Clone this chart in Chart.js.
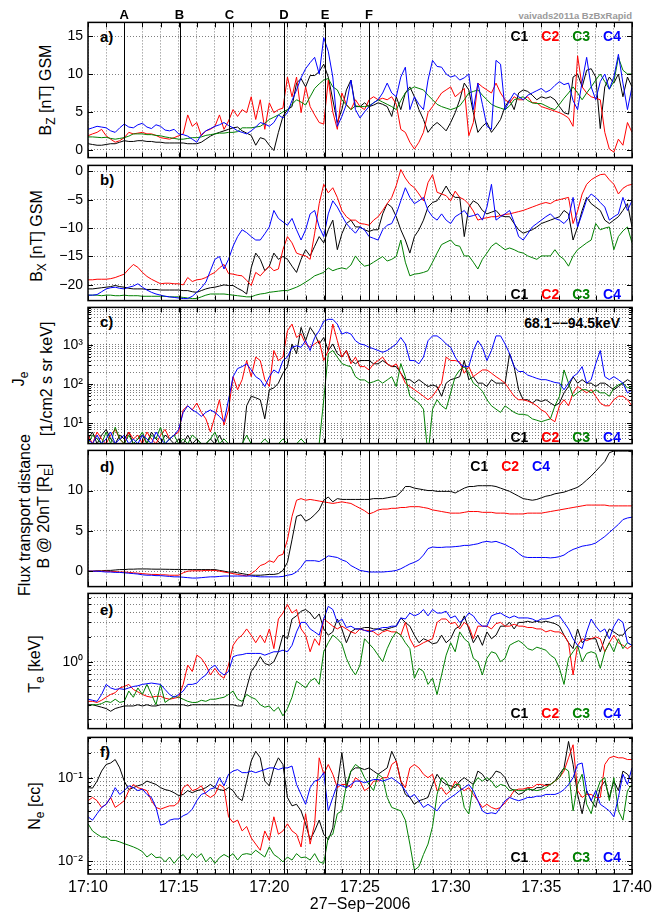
<!DOCTYPE html>
<html lang="en">
<head>
<meta charset="utf-8">
<title>Cluster C1-C4 overview, 27-Sep-2006</title>
<script src="https://cdn.jsdelivr.net/npm/chart.js@4.4.0/dist/chart.umd.min.js"></script>
<style>
  html, body { margin: 0; padding: 0; background: #fff; }
  #page { position: relative; width: 665px; height: 916px; overflow: hidden; background: #fff;
          font-family: "Liberation Sans", Arial, Helvetica, sans-serif; color: #000; }
  #page canvas { position: absolute; left: 0; }
  .ylab { position: absolute; white-space: nowrap; font-size: 16px; line-height: 16px;
          transform: translate(-50%, -50%) rotate(-90deg); }
  .ylab sub { font-size: 12px; line-height: 0; vertical-align: -4px; }
  .tag { position: absolute; left: 100px; font-size: 15px; font-weight: bold; line-height: 1; transform: translateY(-50%); }
  .legend { position: absolute; display: flex; gap: 13px; font-size: 14px; font-weight: bold; line-height: 1; transform: translateY(-50%); }
  .ev { position: absolute; top: 14px; font-size: 13px; font-weight: bold; line-height: 1; transform: translate(-50%, -50%); }
  .note { position: absolute; font-weight: bold; line-height: 1; white-space: nowrap; transform: translateY(-50%); }
</style>
</head>
<body>
<div id="page">
  <div class="ylab" style="left:46px; top:90px">B<sub>Z</sub> [nT] GSM</div>
  <div class="ylab" style="left:37px; top:236px">B<sub>X</sub> [nT] GSM</div>
  <div class="ylab" style="left:19px; top:379px">J<sub>e</sub></div>
  <div class="ylab" style="left:47px; top:379px">[1/cm2 s sr keV]</div>
  <div class="ylab" style="left:25px; top:515px">Flux transport distance</div>
  <div class="ylab" style="left:44px; top:516px">B @ 20nT [R<sub>E</sub>]</div>
  <div class="ylab" style="left:35px; top:664px">T<sub>e</sub> [keV]</div>
  <div class="ylab" style="left:35px; top:806px">N<sub>e</sub> [cc]</div>

  <div class="tag" style="top:36px">a)</div>
  <div class="tag" style="top:179px">b)</div>
  <div class="tag" style="top:321px">c)</div>
  <div class="tag" style="top:466px">d)</div>
  <div class="tag" style="top:609px">e)</div>
  <div class="tag" style="top:751px">f)</div>

  <div class="note" style="right:45px; top:323px; font-size:14px">68.1−−94.5keV</div>
  <div class="note" style="right:33px; top:16px; font-size:9.5px; color:#9a9a9a">vaivads2011a BzBxRapid</div>
</div>

<script>
const FONT = '"Liberation Sans", Arial, Helvetica, sans-serif';
const GRID = 'rgba(0,0,0,0.5)';

// one sample every 15 s, starting 17:10
const sampleStep = 0.25;
const startHour = 17;
const startMinute = 10;
const dateLabel = '27−Sep−2006';

const eventNames = ['A', 'B', 'C', 'D', 'E', 'F'];
const eventTimes = [2.0, 5.05, 7.8, 10.8, 13.07, 15.5];

const scColors = { C1: '#000000', C2: '#ff0000', C3: '#008000', C4: '#0000ff' };

const bzTicks = [0, 5, 10, 15];
const bxTicks = [-20, -15, -10, -5, 0];
const fluxTicks = [0, 5, 10];

// a) Bz GSM [nT]
const bzC1 = [
  0.8,0.7,0.6,0.6,0.7,0.8,0.8,1.0,1.2,1.1,1.1,1.2,1.2,1.1,1.1,1.0,1.0,0.9,0.9,0.9,
  0.9,0.9,0.8,0.8,0.8,1.0,1.4,1.8,2.1,2.3,2.5,2.7,2.9,3.0,2.5,2.2,1.9,0.6,1.6,1.4,
  0.6,-0.1,2.3,4.4,5.3,5.7,8.8,9.4,8.3,9.8,9.8,10.3,11.3,9.6,6.6,3.6,5.3,7.9,9.2,5.7,
  5.7,6.2,5.7,5.9,6.2,6.0,5.7,4.4,7.0,5.3,7.5,8.3,7.0,5.3,4.0,2.3,3.1,3.6,3.1,2.5,
  3.6,4.9,6.6,8.8,7.9,4.9,2.3,3.1,3.6,2.3,3.1,4.0,5.7,6.6,5.3,7.5,7.9,7.7,7.2,6.6,
  7.0,6.8,7.0,6.6,5.7,4.9,4.7,9.6,10.0,8.3,10.5,10.7,9.6,2.8,8.3,9.6,8.8,10.0,7.0,9.6,
  8.3];
const bzC2 = [
  1.85,2.1,2.3,2.7,1.85,1.4,1.0,1.2,1.6,2.3,2.1,2.2,2.3,2.1,2.1,1.9,1.6,1.5,1.4,1.6,
  1.85,2.1,4.6,3.1,3.6,1.85,2.5,2.7,3.1,4.6,2.7,3.8,5.3,4.4,5.3,4.9,7.0,4.0,6.6,2.7,
  6.2,4.9,5.3,5.5,9.6,7.0,9.6,4.9,8.3,5.7,4.6,3.6,3.4,9.2,5.0,2.7,7.5,6.0,5.3,6.6,
  5.7,5.3,6.6,7.0,6.6,6.8,6.6,7.0,6.0,2.7,2.3,1.0,0.1,1.0,2.3,4.9,5.7,6.6,7.5,7.9,
  8.3,7.0,7.5,8.1,1.85,3.6,8.8,8.3,7.9,7.5,8.8,7.5,6.6,6.2,7.0,6.6,6.6,7.0,6.2,6.2,
  5.7,5.5,5.3,5.1,4.9,4.6,4.2,3.1,12.4,8.3,7.5,7.0,6.8,6.6,2.3,0.1,-0.3,1.4,0.6,3.6,
  2.3];
const bzC3 = [
  1.7,1.7,1.65,1.6,1.65,1.5,1.4,1.5,1.6,1.8,2.1,2.1,2.1,2.0,2.0,1.9,1.85,1.7,1.6,1.5,
  1.4,1.4,1.5,1.6,1.6,1.7,1.9,2.0,2.1,2.2,2.2,2.3,2.3,2.4,2.9,2.9,2.9,3.0,3.1,3.5,
  4.0,4.3,4.6,5.0,5.3,6.0,6.6,6.3,5.9,7.0,8.1,8.7,9.2,9.4,8.3,7.9,6.6,5.9,5.3,5.8,
  5.7,5.7,5.8,6.2,6.6,6.3,6.0,5.7,5.3,6.5,7.5,8.0,8.3,8.1,7.9,7.2,6.6,6.0,5.7,5.5,
  5.3,5.5,5.8,6.6,7.5,7.7,7.9,7.2,6.6,6.0,5.7,5.5,5.3,5.8,6.6,6.8,7.0,6.5,6.2,6.1,
  6.1,5.8,5.5,5.3,6.0,6.8,7.5,8.3,7.5,6.6,7.5,8.3,9.2,10.0,9.0,8.0,9.0,12.2,10.5,10.0,
  10.0];
const bzC4 = [
  2.7,2.9,3.1,3.0,2.9,2.5,2.3,2.9,3.4,3.0,2.9,3.3,3.5,3.0,2.8,3.3,3.1,2.6,2.5,2.7,
  2.1,2.0,1.8,1.4,1.0,2.0,2.5,2.8,3.1,3.3,3.6,3.2,2.9,2.5,2.3,2.1,2.5,3.0,3.6,3.4,
  3.1,3.6,4.6,4.2,4.9,6.5,7.9,9.5,10.7,11.5,12.2,10.0,14.8,13.0,9.6,3.1,4.4,6.0,9.2,5.3,
  4.2,5.0,5.7,6.2,6.6,7.5,8.8,7.5,7.0,9.6,10.9,5.3,7.0,6.0,5.3,9.2,11.8,11.0,10.9,10.0,
  9.6,9.8,9.2,9.5,10.0,5.3,8.8,6.0,3.1,2.7,11.8,11.3,5.3,6.5,7.5,7.0,6.6,7.2,7.5,7.8,
  8.1,7.6,7.9,8.5,9.0,8.6,8.8,6.5,5.3,9.0,12.2,8.3,6.6,9.0,10.0,8.0,9.6,12.6,8.8,5.3,
  8.3];

// b) Bx GSM [nT]
const bxC1 = [
  -20.7,-20.7,-20.6,-20.5,-20.4,-20.3,-20.1,-20.3,-20.4,-20.6,-20.7,-20.7,-20.7,-20.8,-20.8,-20.8,-20.9,-20.9,-20.9,-20.9,
  -20.9,-21.0,-21.0,-21.2,-21.3,-21.0,-20.7,-20.5,-20.4,-20.2,-20.0,-20.1,-20.1,-20.6,-21.0,-21.6,-17.0,-14.4,-15.5,-17.5,
  -16.7,-14.4,-15.5,-15.0,-15.5,-16.7,-17.8,-15.5,-13.8,-14.9,-13.2,-11.5,-12.6,-10.3,-8.6,-13.8,-11.0,-9.2,-8.6,-9.8,
  -9.8,-10.3,-10.6,-10.3,-10.3,-7.5,-5.7,-6.3,-8.0,-10.3,-12.1,-14.4,-11.5,-10.3,-8.6,-6.3,-5.5,-5.2,-4.0,-2.6,
  -4.0,-4.6,-4.6,-11.5,-6.3,-5.2,-5.7,-6.9,-7.5,-7.2,-6.9,-7.8,-8.0,-8.0,-9.2,-10.3,-10.9,-10.6,-10.3,-9.8,
  -9.2,-8.9,-8.6,-8.3,-8.0,-6.9,-7.5,-12.1,-9.8,-6.9,-4.6,-5.7,-6.3,-6.9,-8.6,-9.2,-8.6,-8.0,-6.9,-5.7,
  -9.8];
const bxC2 = [
  -19.1,-19.1,-19.0,-19.0,-19.0,-18.9,-18.7,-18.4,-18.1,-17.2,-16.4,-16.9,-17.8,-18.5,-19.0,-19.4,-19.8,-19.7,-19.7,-19.8,
  -19.8,-20.0,-18.7,-19.4,-19.1,-19.0,-18.7,-18.2,-17.8,-17.0,-16.4,-18.0,-18.1,-18.3,-18.4,-19.2,-20.1,-17.8,-18.4,-17.5,
  -16.7,-17.5,-17.2,-13.8,-11.5,-12.6,-14.4,-14.7,-14.9,-15.5,-10.9,-5.7,-2.3,-3.8,-2.9,-4.6,-6.9,-8.0,-8.6,-8.6,
  -9.2,-9.3,-9.5,-8.6,-8.0,-6.9,-5.7,-4.6,-2.5,0.3,-1.2,-2.3,-2.9,-4.0,-5.2,-2.0,-0.6,-3.7,-4.0,-4.3,
  -5.2,-3.5,-4.6,-5.0,-5.8,-7.0,-8.6,-8.3,-8.2,-8.0,-8.0,-7.8,-7.6,-7.5,-7.3,-7.1,-6.9,-6.6,-6.3,-6.0,
  -5.7,-5.5,-5.7,-5.2,-5.0,-4.8,-4.6,-9.2,-7.0,-4.0,-2.3,-1.5,-1.0,-0.6,-0.5,-1.5,-2.3,-4.0,-3.0,-2.5,
  -2.3];
const bxC3 = [
  -21.8,-21.8,-21.8,-21.9,-21.8,-21.8,-21.9,-21.9,-21.8,-21.9,-21.9,-21.9,-22.0,-22.0,-22.0,-22.0,-22.0,-22.0,-22.1,-22.1,
  -22.1,-22.2,-22.3,-22.4,-22.4,-22.1,-21.8,-21.6,-21.6,-21.6,-21.6,-21.7,-21.8,-21.9,-22.0,-22.1,-22.1,-21.8,-21.6,-21.5,
  -21.3,-21.2,-21.1,-21.0,-21.0,-20.7,-20.4,-20.0,-19.5,-19.0,-18.4,-18.1,-17.8,-17.0,-17.5,-17.2,-17.0,-17.2,-16.5,-14.9,
  -16.0,-16.7,-16.5,-16.0,-15.5,-15.0,-15.8,-15.5,-15.0,-12.1,-16.0,-18.4,-18.1,-18.0,-17.8,-17.5,-16.0,-14.4,-12.9,-12.5,
  -12.1,-13.0,-13.2,-14.9,-14.9,-16.0,-17.2,-15.5,-14.4,-13.2,-12.6,-13.2,-13.8,-13.5,-13.8,-14.2,-14.4,-14.9,-15.2,-15.5,
  -14.9,-14.9,-14.9,-13.8,-14.9,-15.5,-16.7,-14.9,-13.8,-13.2,-12.6,-12.1,-9.2,-10.3,-10.0,-9.8,-13.8,-11.5,-10.5,-9.8,
  -12.6];
const bxC4 = [
  -21.8,-21.8,-21.7,-21.2,-20.7,-20.5,-20.4,-20.6,-20.7,-20.4,-20.2,-19.8,-20.4,-20.9,-21.3,-21.6,-21.8,-22.0,-22.1,-22.2,
  -22.3,-22.4,-22.4,-22.0,-21.3,-20.5,-19.5,-17.5,-15.5,-15.0,-17.2,-15.5,-13.2,-11.5,-10.3,-10.8,-11.5,-12.1,-12.1,-11.0,
  -9.8,-6.9,-8.3,-8.9,-9.5,-8.3,-10.3,-12.1,-10.3,-7.5,-6.9,-9.8,-11.5,-7.5,-5.2,-6.3,-7.8,-9.2,-10.1,-10.9,
  -9.8,-10.3,-11.5,-11.8,-12.1,-10.3,-9.5,-9.2,-7.5,-5.2,-2.9,-4.6,-5.7,-5.2,-4.6,-6.9,-8.0,-8.6,-7.5,-8.6,
  -9.2,-8.0,-7.5,-6.9,-8.0,-7.8,-7.5,-8.6,-6.3,-2.3,-8.6,-8.0,-7.5,-6.9,-9.0,-11.5,-12.1,-11.0,-9.8,-9.2,
  -8.6,-8.0,-7.5,-8.3,-8.6,-9.2,-8.3,-4.6,-9.8,-7.5,-5.0,-4.0,-4.6,-5.5,-6.3,-8.6,-8.0,-7.5,-4.6,-6.9,
  -5.2];

// c) electron flux 68.1-94.5 keV [1/cm2 s sr keV]
const jeC1 = [
  4,6,3,5,7,4,3,5,4,6,3,4,5,3,6,4,3,5,4,3,
  4,3,5,3,4,3,3,4,3,5,3,2,2,3,2,28,49,45,40,13,
  72,80,106,190,280,1060,600,2800,1280,2800,1900,1060,1550,720,1060,600,490,720,400,330,
  400,400,400,330,330,400,330,280,280,190,130,130,106,130,106,87,95,87,49,106,
  130,140,155,400,130,155,106,106,87,130,106,106,106,600,280,72,40,40,33,40,
  36,40,33,28,33,60,87,155,106,130,106,106,87,106,106,87,72,87,106,130,
  110];
const jeC2 = [
  5,3,6,4,3,5,7,4,3,6,4,5,3,6,4,3,5,7,4,5,
  6,22,28,22,33,19,13,6,15,40,9,22,155,72,130,400,155,490,400,130,
  87,720,400,490,2300,3400,1550,1900,1060,870,1060,1280,400,720,3400,1280,490,720,330,490,
  280,280,230,330,400,490,330,280,330,190,106,87,72,60,49,40,49,72,106,490,
  400,400,370,190,280,155,190,230,230,190,155,130,106,72,49,40,40,37,33,28,
  22,19,13,11,28,40,28,60,87,72,60,72,49,33,28,28,40,49,49,40,
  28];
const jeC3 = [
  3,5,4,3,6,3,8,4,3,5,3,4,6,3,5,4,8,3,4,5,
  3,4,3,5,4,3,3,4,6,3,4,3,3,2,3,5,3,2,3,4,
  3,2,3,4,3,2,3,4,3,2,3,3,40,600,720,490,335,300,277,155,
  128,128,106,115,128,106,128,155,87,335,155,49,40,33,23,1.5,23,40,28,23,
  60,155,230,277,190,106,87,66,40,28,23,19,28,23,19,17,17,16,13,12,
  11,12,13,28,49,230,106,49,60,72,72,60,72,60,60,49,80,96,106,80,
  87];
const jeC4 = [
  4,3,5,3,4,6,3,4,5,3,4,3,5,4,3,6,4,3,4,5,
  7,19,28,22,19,15,19,22,19,15,11,40,155,250,280,330,230,155,130,87,
  155,230,190,400,490,870,950,870,1280,720,1550,2300,4000,4500,4500,3400,1900,2100,1900,1280,
  1060,1000,870,800,720,650,720,870,1060,1550,1060,400,400,330,490,1280,1700,1700,1400,1060,
  870,490,330,280,280,720,1280,870,400,720,1700,1700,1060,600,280,210,210,170,155,140,
  130,130,120,110,106,72,106,155,190,280,106,130,330,720,155,130,155,130,106,60,
  70];

// d) flux transport distance, B @ 20 nT [RE]
const fluxC1 = [
  0,0,0.05,0.05,0.1,0.1,0.15,0.2,0.2,0.25,0.25,0.28,0.28,0.28,0.26,0.25,0.25,0.24,0.23,0.22,
  0.22,0.2,0.2,0.2,0.2,0.2,0.2,0.2,0.2,0.1,0,-0.1,-0.1,-0.2,-0.3,-0.4,-0.5,-0.5,-0.5,-0.45,
  -0.4,-0.4,-0.3,0.1,1.1,3.9,6.8,7.0,6.2,6.5,7.0,7.6,8.8,9.2,8.6,9.0,8.9,8.9,8.9,8.9,
  8.9,8.9,8.9,9.0,9.0,9.0,9.1,9.2,9.3,9.8,10.5,10.5,10.3,10.2,10.1,10.0,10.0,9.9,9.9,9.9,
  9.9,9.7,10.0,10.3,10.5,10.5,10.6,10.6,10.6,10.6,10.5,10.3,10.1,9.9,9.6,9.3,9.0,8.9,8.8,8.9,
  9.1,9.3,9.4,9.6,9.7,9.8,10.0,10.2,10.4,10.8,11.3,11.8,12.4,13.0,13.6,14.7,14.9,14.9,14.9,14.9,
  14.8];
const fluxC2 = [
  0,0,0,0,0,-0.05,-0.05,-0.1,-0.1,-0.15,-0.2,-0.25,-0.3,-0.35,-0.4,-0.4,-0.45,-0.45,-0.5,-0.5,
  -0.5,-0.2,0,0.05,0.05,0.05,0.1,0.1,0.1,0,-0.1,-0.2,-0.3,-0.4,-0.5,-0.6,-0.3,0.1,0.7,0.9,
  1.3,1.1,1.9,2.1,3.9,6.8,8.8,9.0,8.8,8.9,8.8,8.7,8.6,8.5,8.4,8.5,8.6,8.5,8.4,8.1,
  7.8,7.5,7.1,7.3,7.6,7.7,7.7,7.8,7.8,7.9,7.9,8.0,8.0,8.0,7.9,7.8,7.6,7.5,7.4,7.3,
  7.2,7.2,7.2,7.3,7.4,7.4,7.4,7.3,7.3,7.3,7.2,7.2,7.2,7.1,7.1,7.1,7.1,7.2,7.2,7.2,
  7.2,7.3,7.4,7.5,7.6,7.7,7.8,7.9,8.0,8.1,8.2,8.2,8.2,8.2,8.2,8.1,8.1,8.1,8.1,8.1,
  8.1];
const fluxC4 = [
  0,0,0,-0.05,-0.1,-0.1,-0.15,-0.15,-0.2,-0.25,-0.3,-0.35,-0.45,-0.5,-0.5,-0.55,-0.55,-0.6,-0.65,-0.7,
  -0.7,-0.75,-0.8,-0.85,-0.85,-0.8,-0.75,-0.7,-0.7,-0.65,-0.6,-0.6,-0.6,-0.6,-0.6,-0.6,-0.6,-0.65,-0.7,-0.7,
  -0.7,-0.7,-0.7,-0.65,-0.5,-0.4,-0.1,0.5,1.3,1.3,1.3,1.2,1.5,1.9,1.8,1.7,1.4,1.2,0.7,0.4,
  0.1,0,-0.1,-0.1,-0.1,-0.1,-0.05,0,0.1,0.3,0.6,0.9,1.1,1.4,2.0,2.8,3.0,2.95,2.95,3.0,
  3.0,3.05,3.1,3.2,3.2,3.3,3.4,3.6,3.7,3.6,3.7,3.5,3.3,3.0,2.7,2.2,1.8,1.7,1.7,1.7,
  1.7,1.7,1.65,1.7,1.8,2.0,2.4,2.7,2.9,3.1,3.2,3.3,3.5,3.9,4.3,4.8,5.3,5.8,6.4,6.6,
  6.7];

// e) electron temperature [keV]
const teC1 = [
  0.30,0.30,0.29,0.28,0.27,0.25,0.27,0.28,0.29,0.29,0.29,0.30,0.29,0.30,0.29,0.29,0.30,0.30,0.30,0.30,
  0.30,0.30,0.29,0.30,0.30,0.30,0.30,0.30,0.30,0.30,0.30,0.30,0.30,0.29,0.29,0.48,0.76,0.91,1.15,0.95,
  0.91,1.0,1.32,2.1,1.9,3.3,3.6,4.1,4.3,3.9,3.3,3.8,2.5,2.1,2.3,3.3,2.5,1.7,2.3,2.5,
  2.5,2.6,2.6,2.5,2.5,2.4,2.5,2.6,2.7,3.4,3.0,2.7,2.1,1.7,1.9,1.8,1.65,1.7,2.1,1.7,
  1.9,2.5,2.7,3.6,2.5,1.7,2.1,1.58,2.3,1.9,2.1,2.7,2.7,3.0,2.5,3.0,3.0,3.1,3.0,3.1,
  3.0,3.1,3.0,2.9,2.7,2.1,1.7,1.44,2.5,1.7,1.9,1.9,1.9,1.32,1.9,2.5,2.3,2.1,2.1,2.5,
  2.7];
const teC2 = [
  0.33,0.33,0.32,0.34,0.37,0.40,0.42,0.48,0.50,0.53,0.46,0.43,0.40,0.38,0.37,0.38,0.38,0.36,0.35,0.36,
  0.37,0.53,0.91,0.76,1.2,1.1,0.91,0.69,0.83,0.69,0.63,0.91,1.58,1.9,2.1,2.5,2.1,1.7,2.1,1.7,
  2.5,1.44,3.3,3.9,4.95,3.9,4.3,2.5,2.1,1.32,1.9,1.58,3.3,3.0,2.7,2.5,2.7,2.5,2.3,2.2,
  2.5,2.4,2.4,2.3,2.1,2.3,2.4,2.3,2.3,2.1,3.0,1.9,1.5,1.58,1.7,1.8,1.9,3.0,3.3,3.3,
  2.9,3.0,2.5,3.0,2.7,1.9,2.7,2.7,2.7,2.5,2.9,3.0,2.7,2.7,2.85,2.7,2.7,2.6,2.6,2.5,
  2.5,2.3,2.4,2.3,2.3,2.1,1.7,0.69,1.58,1.9,1.8,1.9,2.0,1.9,1.32,1.7,2.1,1.7,1.58,1.44,
  1.58];
const teC3 = [
  0.29,0.30,0.30,0.31,0.33,0.32,0.35,0.32,0.33,0.44,0.37,0.48,0.40,0.53,0.40,0.30,0.53,0.32,0.35,0.38,
  0.37,0.35,0.33,0.32,0.32,0.34,0.33,0.35,0.35,0.36,0.37,0.40,0.44,0.35,0.33,0.40,0.37,0.35,0.30,0.28,
  0.29,0.25,0.28,0.22,0.27,0.37,0.58,0.53,0.48,0.58,0.63,0.53,1.32,1.7,2.1,1.9,1.65,1.1,0.83,0.69,
  0.91,1.9,1.65,1.44,1.2,1.0,1.44,1.9,2.3,2.1,1.7,1.44,0.63,0.83,0.76,0.53,0.63,0.40,0.69,1.2,
  1.7,1.32,2.3,1.9,1.7,1.1,1.0,0.69,1.1,1.32,1.26,1.0,1.1,1.58,1.7,1.8,1.65,1.44,1.38,1.5,
  1.44,1.38,1.2,1.1,0.83,0.53,1.1,1.32,1.58,1.0,1.26,1.32,1.26,0.83,1.32,1.7,1.32,1.9,1.44,1.7,
  1.58];
const teC4 = [
  0.35,0.34,0.33,0.40,0.53,0.48,0.46,0.47,0.46,0.48,0.50,0.51,0.53,0.54,0.55,0.54,0.53,0.46,0.40,0.37,
  0.40,0.44,0.53,0.53,0.55,0.63,0.69,0.83,0.91,0.76,0.69,0.76,1.15,1.2,1.22,1.26,1.26,1.26,1.26,1.2,
  1.26,1.32,1.32,1.38,1.32,1.58,2.3,3.0,3.0,2.5,2.3,2.1,3.3,4.7,4.3,3.0,3.3,2.6,2.7,2.5,
  2.5,2.4,2.3,2.4,2.5,2.6,2.6,2.7,2.7,3.4,3.3,3.9,3.6,3.8,4.3,3.6,4.3,3.9,3.9,4.1,
  3.4,3.6,3.0,3.3,3.9,3.6,3.0,2.7,2.7,3.6,3.8,3.9,3.6,3.4,3.6,3.4,3.4,3.4,3.3,3.1,
  3.3,3.3,3.4,3.6,3.6,3.0,2.5,1.9,1.58,1.44,2.3,3.3,2.7,2.3,2.5,1.9,2.7,3.3,3.0,1.7,
  1.58];

// f) electron density [cc]
const neC1 = [
  0.076,0.075,0.091,0.12,0.144,0.15,0.165,0.131,0.091,0.072,0.076,0.08,0.083,0.091,0.087,0.083,0.076,0.072,0.07,0.066,
  0.061,0.063,0.07,0.066,0.07,0.072,0.076,0.083,0.076,0.072,0.07,0.076,0.07,0.058,0.053,0.091,0.158,0.207,0.173,0.091,
  0.08,0.131,0.173,0.144,0.058,0.046,0.048,0.04,0.028,0.018,0.023,0.031,0.021,0.018,0.025,0.08,0.2,0.075,0.12,0.131,
  0.131,0.125,0.131,0.12,0.11,0.12,0.131,0.207,0.158,0.091,0.063,0.058,0.048,0.053,0.055,0.058,0.083,0.11,0.091,0.083,
  0.08,0.076,0.091,0.1,0.091,0.083,0.12,0.11,0.091,0.1,0.12,0.115,0.1,0.076,0.07,0.063,0.066,0.076,0.07,0.076,
  0.076,0.083,0.083,0.091,0.11,0.131,0.272,0.144,0.063,0.037,0.07,0.053,0.044,0.076,0.091,0.058,0.091,0.07,0.12,0.11,
  0.091];
const neC2 = [
  0.053,0.058,0.053,0.044,0.048,0.058,0.044,0.048,0.053,0.07,0.083,0.076,0.073,0.07,0.053,0.044,0.042,0.044,0.046,0.046,
  0.051,0.076,0.083,0.07,0.073,0.08,0.063,0.058,0.063,0.083,0.076,0.034,0.029,0.031,0.023,0.026,0.019,0.016,0.0135,0.023,
  0.0177,0.034,0.021,0.023,0.028,0.023,0.021,0.0148,0.037,0.016,0.028,0.173,0.11,0.144,0.11,0.076,0.083,0.083,0.076,0.1,
  0.091,0.07,0.076,0.091,0.091,0.1,0.1,0.144,0.158,0.091,0.076,0.131,0.144,0.131,0.11,0.1,0.11,0.07,0.076,0.063,
  0.07,0.091,0.076,0.07,0.076,0.063,0.053,0.044,0.048,0.044,0.042,0.044,0.05,0.058,0.07,0.073,0.073,0.076,0.076,0.083,
  0.083,0.08,0.083,0.091,0.1,0.12,0.173,0.248,0.07,0.058,0.063,0.063,0.058,0.058,0.144,0.173,0.18,0.173,0.173,0.165,
  0.165];
const neC3 = [
  0.028,0.023,0.021,0.0194,0.0194,0.0177,0.0177,0.017,0.0162,0.0155,0.0148,0.014,0.013,0.0112,0.0123,0.011,0.0112,0.0098,0.0112,0.0094,
  0.011,0.012,0.0103,0.0123,0.011,0.0123,0.0098,0.0112,0.0094,0.011,0.012,0.0112,0.0123,0.0103,0.012,0.0123,0.012,0.0135,0.0123,0.0112,
  0.0148,0.012,0.011,0.0098,0.0112,0.0103,0.0123,0.011,0.0112,0.0103,0.0123,0.0098,0.0094,0.0194,0.021,0.037,0.04,0.083,0.12,0.144,
  0.131,0.1,0.083,0.07,0.11,0.1,0.058,0.044,0.042,0.04,0.031,0.016,0.0078,0.0086,0.012,0.016,0.026,0.063,0.1,0.091,
  0.07,0.083,0.083,0.044,0.0367,0.083,0.1,0.091,0.1,0.091,0.076,0.083,0.08,0.07,0.072,0.07,0.07,0.072,0.072,0.07,
  0.072,0.076,0.083,0.091,0.1,0.131,0.12,0.04,0.083,0.11,0.048,0.037,0.063,0.091,0.1,0.053,0.1,0.04,0.031,0.07,
  0.083];
const neC4 = [
  0.034,0.031,0.037,0.044,0.048,0.058,0.076,0.063,0.07,0.08,0.076,0.07,0.073,0.063,0.058,0.044,0.027,0.028,0.031,0.032,
  0.032,0.035,0.037,0.042,0.053,0.063,0.066,0.073,0.076,0.1,0.08,0.11,0.12,0.125,0.115,0.115,0.12,0.115,0.12,0.125,
  0.131,0.131,0.125,0.131,0.131,0.138,0.083,0.063,0.048,0.076,0.091,0.095,0.115,0.04,0.058,0.083,0.08,0.076,0.083,0.091,
  0.091,0.087,0.091,0.095,0.095,0.091,0.095,0.1,0.091,0.083,0.07,0.058,0.063,0.053,0.044,0.048,0.044,0.04,0.048,0.053,
  0.058,0.063,0.07,0.076,0.083,0.07,0.053,0.04,0.037,0.038,0.037,0.044,0.053,0.058,0.055,0.053,0.055,0.058,0.058,0.06,
  0.06,0.063,0.063,0.063,0.066,0.072,0.083,0.1,0.144,0.15,0.07,0.053,0.07,0.048,0.044,0.04,0.034,0.058,0.11,0.083,
  0.131];

// page layout: top and bottom pixel of each panel box
const panelBoxes = [[21, 159], [164, 302], [306, 445], [449, 588], [592, 730], [736, 874]];

const panels = [
  { log: false, min: -1.03, max: 16.81, ticks: bzTicks, series: { C1: bzC1, C2: bzC2, C3: bzC3, C4: bzC4 },
    legend: ['C1', 'C2', 'C3', 'C4'], legendRight: 44, legendY: 36 },
  { log: false, min: -22.76, max: 1.03, ticks: bxTicks, series: { C1: bxC1, C2: bxC2, C3: bxC3, C4: bxC4 },
    legend: ['C1', 'C2', 'C3', 'C4'], legendRight: 44, legendY: 294 },
  { log: true, min: 3.04, max: 9070, series: { C1: jeC1, C2: jeC2, C3: jeC3, C4: jeC4 },
    legend: ['C1', 'C2', 'C3', 'C4'], legendRight: 44, legendY: 437 },
  { log: false, min: -1.91, max: 14.98, ticks: fluxTicks, series: { C1: fluxC1, C2: fluxC2, C4: fluxC4 },
    legend: ['C1', 'C2', 'C4'], legendRight: 115, legendY: 466 },
  { log: true, min: 0.154, max: 6.75, series: { C1: teC1, C2: teC2, C3: teC3, C4: teC4 },
    legend: ['C1', 'C2', 'C3', 'C4'], legendRight: 44, legendY: 713 },
  { log: true, min: 0.00701, max: 0.304, series: { C1: neC1, C2: neC2, C3: neC3, C4: neC4 },
    legend: ['C1', 'C2', 'C3', 'C4'], legendRight: 44, legendY: 857 }
];

function toPoints(values) {
  return values.map((v, i) => ({ x: i * sampleStep, y: v }));
}

function clockLabel(m) {
  return startHour + ':' + String(startMinute + m).padStart(2, '0');
}

function isPow10(v) {
  const e = Math.log10(v);
  return Math.abs(e - Math.round(e)) < 1e-9;
}

function sup(n) {
  const digits = '⁰¹²³⁴⁵⁶⁷⁸⁹';
  return String(n).split('').map(c => c === '-' ? '⁻' : digits[+c]).join('');
}

function logTickValues(min, max) {
  const out = [];
  for (let e = Math.floor(Math.log10(min)); e <= Math.ceil(Math.log10(max)); e++) {
    for (let k = 1; k <= 9; k++) {
      const v = parseFloat((k * Math.pow(10, e)).toPrecision(6));
      if (v >= min && v <= max) out.push(v);
    }
  }
  return out;
}

function linearLabel(v) {
  return v < 0 ? '−' + Math.abs(v) : String(v);
}

// box, inward tick marks and event lines, drawn like the Matlab axes
const framePlugin = {
  id: 'frame',
  afterDatasetsDraw(chart) {
    const { ctx, chartArea: a } = chart;
    const x = chart.scales.x, y = chart.scales.y;
    ctx.save();
    ctx.strokeStyle = '#000';
    ctx.lineWidth = 1;
    ctx.beginPath();
    eventTimes.forEach(t => {
      const px = Math.round(x.getPixelForValue(t)) + 0.5;
      ctx.moveTo(px, a.top);
      ctx.lineTo(px, a.bottom);
    });
    x.ticks.forEach(tk => {
      const px = Math.round(x.getPixelForValue(tk.value)) + 0.5;
      ctx.moveTo(px, a.bottom);
      ctx.lineTo(px, a.bottom - 5);
      ctx.moveTo(px, a.top);
      ctx.lineTo(px, a.top + 5);
    });
    y.ticks.forEach(tk => {
      const py = Math.round(y.getPixelForValue(tk.value)) + 0.5;
      const len = (y.type !== 'logarithmic' || isPow10(tk.value)) ? 5 : 3;
      ctx.moveTo(a.left, py);
      ctx.lineTo(a.left + len, py);
      ctx.moveTo(a.right, py);
      ctx.lineTo(a.right - len, py);
    });
    ctx.stroke();
    ctx.lineWidth = 1.5;
    ctx.strokeRect(a.left, a.top, a.right - a.left, a.bottom - a.top);
    ctx.restore();
  }
};

const page = document.getElementById('page');
const charts = [];

panels.forEach((p, idx) => {
  const last = idx === panels.length - 1;
  const [top, bottom] = panelBoxes[idx];
  const padTop = 12;
  const padBottom = last ? 0 : 12;
  const xAxisHeight = last ? 44 : 0;

  const canvas = document.createElement('canvas');
  canvas.width = 665;
  canvas.height = (bottom - top) + padTop + padBottom + xAxisHeight;
  canvas.style.top = (top - padTop) + 'px';
  page.appendChild(canvas);

  const tickList = p.log ? logTickValues(p.min, p.max) : p.ticks;
  const names = Object.keys(p.series);

  const datasets = names.map((name, i) => ({
    label: name,
    data: toPoints(p.series[name]),
    borderColor: scColors[name],
    borderWidth: 1,
    pointRadius: 0,
    fill: false,
    order: names.length - i
  }));

  const chart = new Chart(canvas.getContext('2d'), {
    type: 'line',
    data: { datasets: datasets },
    options: {
      responsive: false,
      animation: false,
      devicePixelRatio: 1,
      layout: { padding: { top: padTop, bottom: padBottom, left: 0, right: 33 } },
      plugins: { legend: { display: false }, tooltip: { enabled: false } },
      elements: { line: { tension: 0 }, point: { radius: 0 } },
      scales: {
        x: {
          type: 'linear',
          min: 0,
          max: 30,
          afterFit: s => { s.height = xAxisHeight; },
          ticks: {
            display: last,
            stepSize: 1,
            autoSkip: false,
            maxRotation: 0,
            padding: 4,
            color: '#000',
            font: { family: FONT, size: 16 },
            callback: v => (v % 5 === 0 ? clockLabel(v) : '')
          },
          grid: { color: GRID, lineWidth: 1, drawTicks: false },
          border: { display: false, dash: [1, 2] },
          title: {
            display: last,
            text: dateLabel,
            color: '#000',
            font: { family: FONT, size: 16 },
            padding: { top: 0, bottom: 4 }
          }
        },
        y: {
          type: p.log ? 'logarithmic' : 'linear',
          min: p.min,
          max: p.max,
          afterFit: s => { s.width = 88; },
          afterBuildTicks: s => { s.ticks = tickList.map(v => ({ value: v })); },
          ticks: {
            autoSkip: false,
            padding: 5,
            color: '#000',
            font: { family: FONT, size: 14 },
            callback: v => {
              if (!p.log) return linearLabel(v);
              return isPow10(v) ? '10' + sup(Math.round(Math.log10(v))) : '';
            }
          },
          grid: { color: GRID, lineWidth: 1, drawTicks: false },
          border: { display: false, dash: [1, 2] }
        }
      }
    },
    plugins: [framePlugin]
  });
  charts.push(chart);

  // legend: spacecraft names in their line colours
  const lg = document.createElement('div');
  lg.className = 'legend';
  lg.style.right = p.legendRight + 'px';
  lg.style.top = p.legendY + 'px';
  p.legend.forEach(name => {
    const s = document.createElement('span');
    s.textContent = name;
    s.style.color = scColors[name];
    lg.appendChild(s);
  });
  page.appendChild(lg);
});

// event letters above the first panel
const xTop = charts[0].scales.x;
eventNames.forEach((name, i) => {
  const d = document.createElement('div');
  d.className = 'ev';
  d.textContent = name;
  d.style.left = xTop.getPixelForValue(eventTimes[i]) + 'px';
  page.appendChild(d);
});
</script>
</body>
</html>
